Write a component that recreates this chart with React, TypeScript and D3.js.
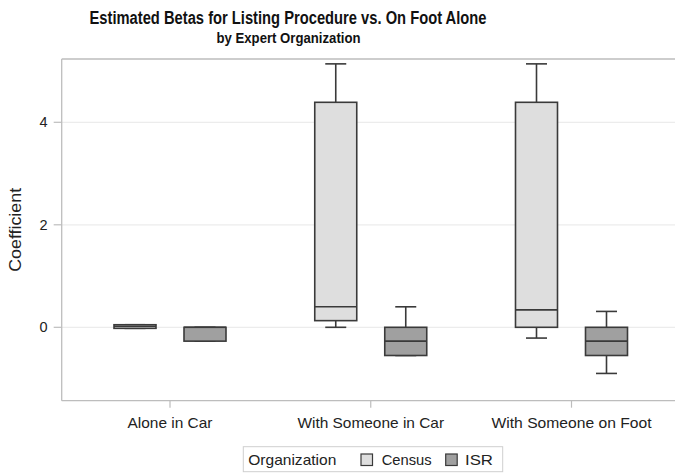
import React from "react";
import * as d3 from "d3";

const categories = ["Alone in Car", "With Someone in Car", "With Someone on Foot"];
const organizations = ["Census", "ISR"];
// [min, q1, median, q3, max]
const censusStats: number[][] = [
  [-0.02, -0.02, 0.02, 0.05, 0.05],
  [0.0, 0.13, 0.4, 4.39, 5.14],
  [-0.21, 0.0, 0.34, 4.39, 5.14],
];
const isrStats: number[][] = [
  [-0.27, -0.27, 0.0, 0.0, 0.0],
  [-0.55, -0.55, -0.27, 0.0, 0.4],
  [-0.9, -0.55, -0.27, 0.0, 0.31],
];
const yTicks = [0, 2, 4];
const fills: Record<string, string> = { Census: "#dedede", ISR: "#a0a0a0" };

const W = 675;
const H = 473;
const left = 61.7;
const top = 59;
const bottom = 400.7;
const right = 700;

export default function App() {
  const y = d3.scaleLinear().domain([-1.432, 5.235]).range([bottom, top]);
  const x = d3.scalePoint<string>().domain(categories).range([170, 571.5]);
  const sub = d3.scaleBand<string>().domain(organizations).range([-70, 70]);
  const boxW = 42;
  const capW = 21;
  const stroke = "#3a3a3a";
  const font = "'Liberation Sans', Arial, sans-serif";

  const series = [
    { org: "Census", stats: censusStats },
    { org: "ISR", stats: isrStats },
  ];

  return (
    <svg width={W} height={H} style={{ position: "absolute", left: 0, top: 0, background: "#fff" }}>
      <rect x={0} y={0} width={W} height={H} fill="#fff" />
      <text x={288} y={24} textAnchor="middle" fontFamily="'Liberation Sans Narrow', 'Arial Narrow', 'Liberation Sans', Arial, sans-serif" fontWeight="bold" fontSize={17.5} fill="#111" textLength={397} lengthAdjust="spacingAndGlyphs">
        Estimated Betas for Listing Procedure vs. On Foot Alone
      </text>
      <text x={288.5} y={43.3} textAnchor="middle" fontFamily="'Liberation Sans Narrow', 'Arial Narrow', 'Liberation Sans', Arial, sans-serif" fontWeight="bold" fontSize={15.5} fill="#111" textLength={144} lengthAdjust="spacingAndGlyphs">
        by Expert Organization
      </text>

      {/* gridlines */}
      {yTicks.map((t) => (
        <line key={"g" + t} x1={left} x2={right} y1={y(t)} y2={y(t)} stroke="#ececec" strokeWidth={1.3} />
      ))}

      {/* frame */}
      <line x1={left} x2={right} y1={top} y2={top} stroke="#bdbdbd" strokeWidth={1.3} />
      <line x1={left} x2={right} y1={bottom} y2={bottom} stroke="#bdbdbd" strokeWidth={1.3} />
      <line x1={left} x2={left} y1={top} y2={bottom} stroke="#bdbdbd" strokeWidth={1.3} />

      {/* y ticks */}
      {yTicks.map((t) => (
        <g key={"t" + t}>
          <line x1={left - 8} x2={left} y1={y(t)} y2={y(t)} stroke="#bdbdbd" strokeWidth={1.2} />
          <text x={47.5} y={y(t) + 5} textAnchor="end" fontFamily={font} fontSize={14.5} fill="#222">
            {t}
          </text>
        </g>
      ))}
      <text transform={`translate(21,${(top + bottom) / 2}) rotate(-90)`} textAnchor="middle" fontFamily={font} fontSize={16.5} fill="#222" textLength={84} lengthAdjust="spacingAndGlyphs">
        Coefficient
      </text>

      {/* x ticks */}
      {categories.map((c, i) => (
        <g key={"x" + c}>
          <line x1={x(c)!} x2={x(c)!} y1={bottom} y2={bottom + 7} stroke="#bdbdbd" strokeWidth={1.2} />
          <text x={x(c)!} y={428} textAnchor="middle" fontFamily={font} fontSize={15} fill="#222" textLength={[85, 146.7, 160][i]} lengthAdjust="spacingAndGlyphs">
            {c}
          </text>
        </g>
      ))}

      {/* boxes */}
      {series.map((s) =>
        s.stats.map((st, i) => {
          const cx = x(categories[i])! + sub(s.org)! + sub.bandwidth() / 2;
          const [mn, q1, md, q3, mx] = st;
          return (
            <g key={s.org + i}>
              <line x1={cx} x2={cx} y1={y(mx)} y2={y(q3)} stroke={stroke} strokeWidth={1.6} />
              <line x1={cx} x2={cx} y1={y(q1)} y2={y(mn)} stroke={stroke} strokeWidth={1.6} />
              <line x1={cx - capW / 2} x2={cx + capW / 2} y1={y(mx)} y2={y(mx)} stroke={stroke} strokeWidth={1.6} />
              <line x1={cx - capW / 2} x2={cx + capW / 2} y1={y(mn)} y2={y(mn)} stroke={stroke} strokeWidth={1.6} />
              <rect x={cx - boxW / 2} y={y(q3)} width={boxW} height={Math.max(0.5, y(q1) - y(q3))} fill={fills[s.org]} stroke={stroke} strokeWidth={1.6} />
              <line x1={cx - boxW / 2} x2={cx + boxW / 2} y1={y(md)} y2={y(md)} stroke={stroke} strokeWidth={1.6} />
            </g>
          );
        })
      )}

      {/* legend */}
      <rect x={243.3} y={446.7} width={259.4} height={25} fill="#fff" stroke="#cfcfcf" strokeWidth={1} />
      <text x={248.3} y={465} fontFamily={font} fontSize={15} fill="#222" textLength={88} lengthAdjust="spacingAndGlyphs">
        Organization
      </text>
      <rect x={361} y={454} width={11.5} height={11.5} fill={fills.Census} stroke={stroke} strokeWidth={1.2} />
      <text x={381.7} y={465} fontFamily={font} fontSize={15} fill="#222" textLength={50} lengthAdjust="spacingAndGlyphs">
        Census
      </text>
      <rect x={445.7} y={454} width={11.5} height={11.5} fill={fills.ISR} stroke={stroke} strokeWidth={1.2} />
      <text x={465} y={465} fontFamily={font} fontSize={15} fill="#222" textLength={28} lengthAdjust="spacingAndGlyphs">
        ISR
      </text>
    </svg>
  );
}
